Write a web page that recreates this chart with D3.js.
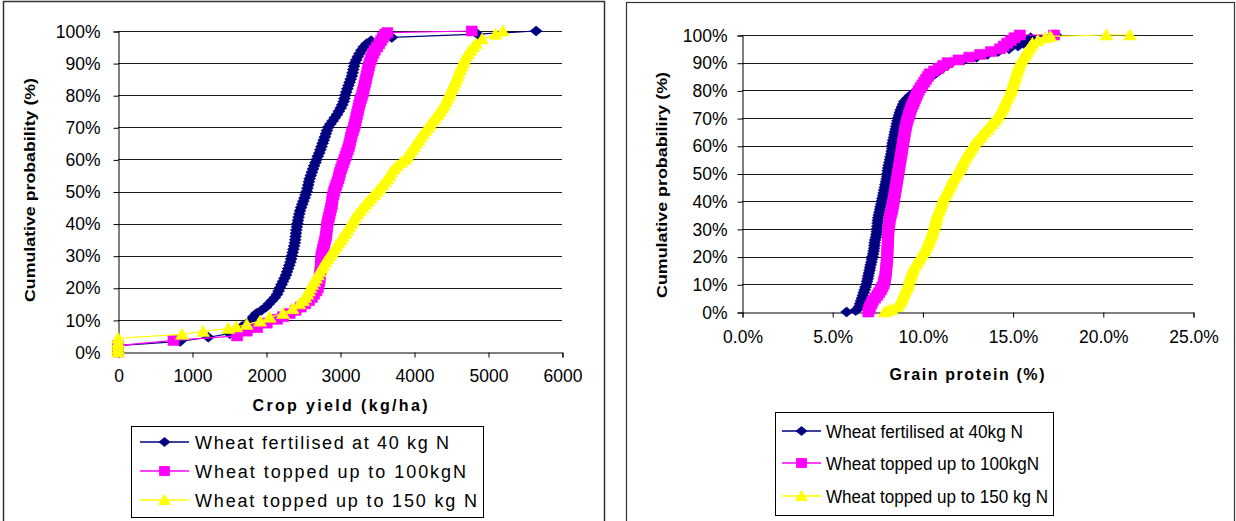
<!DOCTYPE html>
<html><head><meta charset="utf-8">
<script src="https://cdn.jsdelivr.net/npm/d3@7"></script>
<style>
body{margin:0;background:#fff;}
svg{display:block;font-family:"Liberation Sans",Arial,sans-serif;}
</style></head>
<body><svg id="c" width="1236" height="521"></svg>
<script>
// ---------- DATA ----------
const seriesNames = ["Wheat fertilised at 40 kg N","Wheat topped up to 100kgN","Wheat topped up to 150 kg N"];
const seriesNamesRight = ["Wheat fertilised at 40kg N","Wheat topped up to 100kgN","Wheat topped up to 150 kg N"];
const seriesColors = ["#000080","#FF00FF","#FFFF00"];
const probTicks = [0,10,20,30,40,50,60,70,80,90,100];
const yieldTicks = [0,1000,2000,3000,4000,5000,6000];
const proteinTicks = [0,5,10,15,20,25];

// Left chart: crop yield (kg/ha) vs cumulative probability (%)
const yield40 = [0,0,0,840,1220,1510,1620,1680,1760,1800,1830,1870,1940,2000,2040,2080,2120,2150,2170,2190,2210,2230,2250,2270,2285,2300,2315,2330,2340,2350,2360,2370,2380,2390,2395,2400,2405,2410,2418,2425,2432,2440,2450,2460,2475,2490,2505,2520,2535,2550,2560,2570,2580,2590,2605,2620,2635,2650,2668,2685,2700,2720,2735,2750,2765,2780,2795,2810,2825,2840,2870,2900,2930,2960,2985,3010,3030,3050,3060,3070,3085,3100,3115,3130,3145,3160,3170,3180,3190,3200,3220,3240,3265,3290,3320,3360,3420,3700,4860,5650];
const yieldP40 = [0,1,2,3.3,4.6,5.7,7,8,9,10,11,12,13,14,15,16,17,18,19,20,21,22,23,24,25,26,27,28,29,30,31,32,33,34,35,36,37,38,39,40,41,42,43,44,45,46,47,48,49,50,51,52,53,54,55,56,57,58,59,60,61,62,63,64,65,66,67,68,69,70,71,72,73,74,75,76,77,78,79,80,81,82,83,84,85,86,87,88,89,90,91,92,93,94,95,96,97,98,99,100];
const yield100 = [0,0,0,750,1610,1740,1880,2010,2150,2230,2320,2400,2470,2530,2580,2620,2650,2680,2700,2710,2720,2725,2730,2735,2740,2742,2745,2748,2750,2760,2770,2780,2790,2800,2810,2815,2820,2825,2830,2840,2850,2860,2870,2880,2890,2895,2900,2910,2920,2935,2950,2965,2980,2990,3000,3015,3030,3045,3060,3075,3090,3105,3120,3130,3140,3150,3160,3175,3190,3200,3210,3220,3230,3240,3250,3260,3270,3285,3300,3310,3320,3330,3340,3350,3360,3370,3380,3390,3400,3415,3430,3450,3470,3500,3530,3555,3580,3610,3640,4780];
const yieldP100 = [0,1,2,3.6,5,6.5,7.6,9,10.2,11,12,13,14,15,16,17,18,19,20,21,22,23,24,25,26,27,28,29,30,31,32,33,34,35,36,37,38,39,40,41,42,43,44,45,46,47,48,49,50,51,52,53,54,55,56,57,58,59,60,61,62,63,64,65,66,67,68,69,70,71,72,73,74,75,76,77,78,79,80,81,82,83,84,85,86,87,88,89,90,91,92,93,94,95,96,97,98,99,99.5,100];
const yield150 = [0,0,0,0,0,865,1150,1490,1600,1740,1920,2050,2230,2360,2450,2500,2530,2560,2580,2600,2625,2650,2675,2700,2725,2750,2775,2800,2830,2860,2890,2920,2950,2980,3010,3040,3070,3100,3125,3150,3175,3200,3235,3270,3305,3340,3380,3420,3460,3500,3535,3570,3605,3640,3665,3690,3730,3770,3825,3880,3910,3940,3970,4000,4030,4060,4090,4120,4155,4190,4220,4250,4285,4320,4350,4380,4405,4430,4450,4470,4490,4510,4530,4550,4570,4590,4605,4620,4640,4660,4680,4700,4730,4760,4800,4840,4920,5100,5200];
const yieldP150 = [0,1,2,3,4.3,5.5,6.4,7.3,7.8,8.6,9.6,10.8,12,13.5,15,16,17,18,19,20,21,22,23,24,25,26,27,28,29,30,31,32,33,34,35,36,37,38,39,40,41,42,43,44,45,46,47,48,49,50,51,52,53,54,55,56,57,58,59,60,61,62,63,64,65,66,67,68,69,70,71,72,73,74,75,76,77,78,79,80,81,82,83,84,85,86,87,88,89,90,91,92,93,94,95,96,97.5,99,100];

// Right chart: grain protein (%) vs cumulative probability (%)
const protein40 = [5.8,6.3,6.4,6.5,6.55,6.6,6.65,6.7,6.75,6.8,6.85,6.9,6.93,6.97,7.0,7.03,7.07,7.1,7.13,7.17,7.2,7.23,7.27,7.3,7.32,7.34,7.35,7.38,7.42,7.45,7.47,7.49,7.5,7.52,7.53,7.55,7.58,7.62,7.65,7.68,7.72,7.75,7.78,7.82,7.85,7.88,7.92,7.95,7.98,8.02,8.05,8.07,8.08,8.1,8.13,8.17,8.2,8.23,8.27,8.3,8.32,8.33,8.35,8.38,8.42,8.45,8.48,8.52,8.55,8.58,8.62,8.65,8.7,8.75,8.8,8.87,8.93,9.0,9.15,9.3,9.5,9.7,9.85,10.0,10.15,10.3,10.5,10.7,10.9,11.1,11.35,11.6,12.3,13.0,13.6,14.2,14.8,15.3,15.6,15.9,16.0,17.4];
const proteinP40 = [0,0.5,1,2,3,4,5,6,7,8,9,10,11,12,13,14,15,16,17,18,19,20,21,22,23,24,25,26,27,28,29,30,31,32,33,34,35,36,37,38,39,40,41,42,43,44,45,46,47,48,49,50,51,52,53,54,55,56,57,58,59,60,61,62,63,64,65,66,67,68,69,70,71,72,73,74,75,76,77,78,79,80,81,82,83,84,85,86,87,88,89,90,91,92,93,94,95,96,97,98,99,100];
const protein100 = [7.0,7.05,7.1,7.18,7.25,7.38,7.5,7.6,7.7,7.78,7.85,7.88,7.92,7.95,7.97,7.98,8.0,8.01,8.03,8.04,8.05,8.06,8.06,8.07,8.07,8.08,8.09,8.1,8.1,8.11,8.12,8.14,8.16,8.18,8.2,8.24,8.28,8.32,8.35,8.38,8.4,8.43,8.45,8.48,8.5,8.53,8.55,8.58,8.6,8.63,8.65,8.68,8.7,8.73,8.75,8.78,8.8,8.83,8.85,8.88,8.9,8.92,8.95,8.98,9.0,9.03,9.05,9.09,9.12,9.16,9.2,9.25,9.3,9.35,9.4,9.47,9.53,9.6,9.67,9.73,9.8,9.9,10.0,10.1,10.2,10.3,10.4,10.65,10.9,11.15,11.4,12.0,12.6,13.2,13.8,14.3,14.5,14.7,14.9,15.1,15.4,17.3];
const proteinP100 = [0,1,2,3,4,5,6,7,8,9,10,11,12,13,14,15,16,17,18,19,20,21,22,23,24,25,26,27,28,29,30,31,32,33,34,35,36,37,38,39,40,41,42,43,44,45,46,47,48,49,50,51,52,53,54,55,56,57,58,59,60,61,62,63,64,65,66,67,68,69,70,71,72,73,74,75,76,77,78,79,80,81,82,83,84,85,86,87,88,89,90,91,92,93,94,95,96,97,98,99,100,100];
const protein150 = [7.9,8.1,8.3,8.6,8.7,8.8,8.87,8.93,9.0,9.08,9.15,9.2,9.25,9.3,9.35,9.4,9.45,9.5,9.6,9.7,9.8,9.9,10.0,10.08,10.17,10.25,10.31,10.37,10.44,10.5,10.55,10.6,10.65,10.7,10.74,10.77,10.8,10.87,10.93,11.0,11.05,11.1,11.15,11.23,11.32,11.4,11.48,11.55,11.63,11.7,11.8,11.9,12.0,12.08,12.15,12.23,12.3,12.4,12.5,12.6,12.7,12.8,12.9,13.05,13.2,13.3,13.45,13.6,13.7,13.85,14.0,14.1,14.2,14.3,14.4,14.47,14.53,14.6,14.68,14.75,14.83,14.9,14.95,15.0,15.05,15.1,15.15,15.2,15.25,15.3,15.35,15.4,15.5,15.6,15.7,15.8,15.9,16.0,16.1,16.4,16.8,17.1,20.2,21.5];
const proteinP150 = [0,0.5,1,2,3,4,5,6,7,8,9,10,11,12,13,14,15,16,17,18,19,20,21,22,23,24,25,26,27,28,29,30,31,32,33,34,35,36,37,38,39,40,41,42,43,44,45,46,47,48,49,50,51,52,53,54,55,56,57,58,59,60,61,62,63,64,65,66,67,68,69,70,71,72,73,74,75,76,77,78,79,80,81,82,83,84,85,86,87,88,89,90,91,92,93,94,95,96,97,98,99,99.5,100,100];

// ---------- DRAW ----------
const svg = d3.select("#c");
const font = '"Liberation Sans",Arial,sans-serif';
const markers = [
  "M0,-5L6,0L0,5L-6,0Z",
  "M-5.5,-5L5.5,-5L5.5,5L-5.5,5Z",
  "M0,-6L6.5,5L-6.5,5Z"
];

// panel frames
svg.append("rect").attr("x",3.5).attr("y",1.5).attr("width",601).attr("height",540)
  .attr("fill","none").attr("stroke","#333").attr("stroke-width",1.5);
svg.append("rect").attr("x",626.5).attr("y",2.5).attr("width",608).attr("height",540)
  .attr("fill","none").attr("stroke","#333").attr("stroke-width",1.2);

function drawChart(cfg){
  const g = svg.append("g");
  const x = d3.scaleLinear().domain(cfg.xDomain).range(cfg.xRange);
  const y = d3.scaleLinear().domain([0,100]).range(cfg.yRange);
  // gridlines
  g.append("g").selectAll("line").data(probTicks.filter(d=>d>0)).join("line")
    .attr("x1",cfg.xRange[0]).attr("x2",cfg.xRange[1])
    .attr("y1",d=>Math.round(y(d))+0.5).attr("y2",d=>Math.round(y(d))+0.5)
    .attr("stroke","#1a1a1a").attr("stroke-width",1);
  // axes
  const ya = g.append("g").attr("transform",`translate(${cfg.xRange[0]+0.5},0.5)`)
    .call(d3.axisLeft(y).tickValues(probTicks).tickFormat(d=>d+"%").tickSize(5).tickPadding(cfg.yPad));
  const xa = g.append("g").attr("transform",`translate(0.5,${Math.round(cfg.yRange[0])+0.5})`)
    .call(d3.axisBottom(x).tickValues(cfg.xTicks).tickFormat(cfg.xFmt).tickSize(5).tickPadding(cfg.xPad));
  [ya,xa].forEach(a=>{
    a.selectAll("path,line").attr("stroke","#000");
    a.selectAll("text").attr("font-family",font).attr("font-size",17.5).attr("fill","#000");
  });
  // series
  cfg.series.forEach((s,i)=>{
    const pts = s.v.map((v,k)=>[v,s.p[k]]);
    g.append("path").datum(pts)
      .attr("d",d3.line().x(d=>x(d[0])).y(d=>y(d[1])))
      .attr("fill","none").attr("stroke",seriesColors[i]).attr("stroke-width",1.2);
    g.append("g").selectAll("path").data(pts).join("path")
      .attr("d",markers[i])
      .attr("transform",d=>`translate(${x(d[0])},${y(d[1])})`)
      .attr("fill",seriesColors[i]).attr("stroke",seriesColors[i]).attr("stroke-width",0.6);
  });
  // titles
  g.append("text").attr("x",cfg.xTitle[0]).attr("y",cfg.xTitle[1]).attr("text-anchor","middle")
    .attr("font-family",font).attr("font-weight","bold").attr("font-size",16)
    .attr("textLength",cfg.xTitle[3]).attr("lengthAdjust","spacing").text(cfg.xTitle[2]);
  g.append("text").attr("transform",`translate(${cfg.yTitle[0]},${cfg.yTitle[1]}) rotate(-90)`)
    .attr("text-anchor","middle")
    .attr("font-family",font).attr("font-weight","bold").attr("font-size",15)
    .attr("textLength",cfg.yTitle[3]).attr("lengthAdjust","spacingAndGlyphs").text(cfg.yTitle[2]);
  // legend
  const L = cfg.legend;
  g.append("rect").attr("x",L.box[0]+0.5).attr("y",L.box[1]+0.5).attr("width",L.box[2]).attr("height",L.box[3])
    .attr("fill","#fff").attr("stroke","#000").attr("stroke-width",1);
  L.names.forEach((n,i)=>{
    const cy = L.rows[i];
    g.append("line").attr("x1",L.lx[0]).attr("x2",L.lx[1]).attr("y1",cy).attr("y2",cy)
      .attr("stroke",seriesColors[i]).attr("stroke-width",1.5);
    g.append("path").attr("d",markers[i]).attr("transform",`translate(${(L.lx[0]+L.lx[1])/2},${cy}) scale(0.9)`)
      .attr("fill",seriesColors[i]).attr("stroke",seriesColors[i]);
    g.append("text").attr("x",L.tx).attr("y",cy+6.5)
      .attr("font-family",font).attr("font-size",18).attr("fill","#000")
      .attr("textLength",L.widths[i]).attr("lengthAdjust",L.adjust).text(n);
  });
}

drawChart({
  xDomain:[0,6000], xRange:[118,562], yRange:[352,31],
  xTicks:yieldTicks, xFmt:d=>d, yPad:13, xPad:12,
  series:[{v:yield40,p:yieldP40},{v:yield100,p:yieldP100},{v:yield150,p:yieldP150}],
  xTitle:[340,411,"Crop yield (kg/ha)",175],
  yTitle:[35,190,"Cumulative probability (%)",224],
  legend:{box:[131,426,352,91],rows:[442,471,500],lx:[140,189],tx:195,
          names:seriesNames,widths:[254,271,282],adjust:"spacing"}
});
drawChart({
  xDomain:[0,25], xRange:[742,1193], yRange:[312,35],
  xTicks:proteinTicks, xFmt:d=>d.toFixed(1)+"%", yPad:10, xPad:13,
  series:[{v:protein40,p:proteinP40},{v:protein100,p:proteinP100},{v:protein150,p:proteinP150}],
  xTitle:[967,380,"Grain protein (%)",155],
  yTitle:[667,185,"Cumulative probabiliry (%)",226],
  legend:{box:[775,412,278,103],rows:[431,463,496],lx:[782,821],tx:826,
          names:seriesNamesRight,widths:[197,213,222],adjust:"spacingAndGlyphs"}
});
</script></body></html>
